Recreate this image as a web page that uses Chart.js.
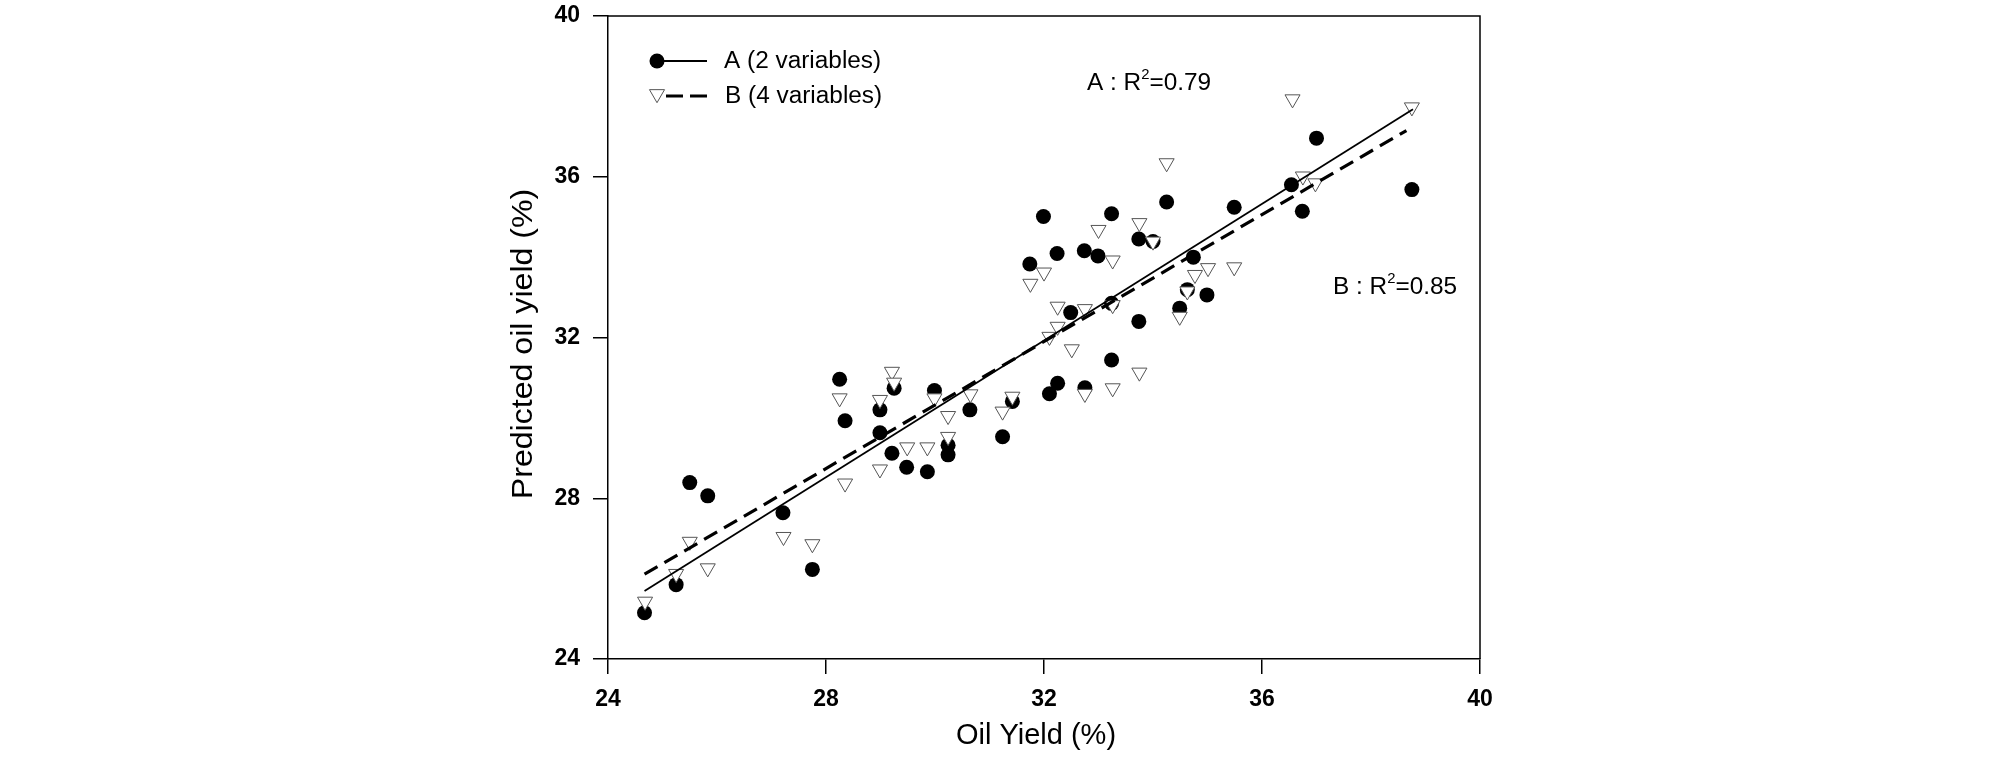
<!DOCTYPE html>
<html>
<head>
<meta charset="utf-8">
<script src="https://cdn.jsdelivr.net/npm/chart.js@4.4.1/dist/chart.umd.min.js"></script>
<style>
  html, body { margin: 0; padding: 0; background: #fff; }
  #wrap { width: 2008px; height: 758px; }
</style>
</head>
<body>
<div id="wrap"><canvas id="chart" width="2008" height="758"></canvas></div>
<script>
// --------------------------------
// || Data
// --------------------------------

// model A (2 variables): measured oil yield vs predicted
const aX = [24.67, 25.25, 25.50, 25.83, 27.21, 27.75, 28.25, 28.35, 28.99, 28.99,
            29.21, 29.25, 29.48, 29.86, 29.99, 30.24, 30.24, 30.64, 31.24, 31.42,
            31.74, 31.99, 32.10, 32.24, 32.25, 32.49, 32.74, 32.75, 32.99, 33.24,
            33.24, 33.24, 33.74, 33.74, 34.00, 34.25, 34.49, 34.63, 34.74, 34.99,
            35.49, 36.54, 36.74, 37.00, 38.75];
const aY = [25.15, 25.85, 28.39, 28.06, 27.64, 26.23, 30.96, 29.93, 30.20, 29.63,
            29.12, 30.74, 28.77, 28.66, 30.68, 29.32, 29.08, 30.20, 29.53, 30.41,
            33.83, 35.01, 30.60, 34.09, 30.86, 32.62, 34.16, 30.75, 34.03, 35.08,
            32.85, 31.44, 34.45, 32.40, 34.39, 35.37, 32.73, 33.19, 34.00, 33.06,
            35.24, 35.80, 35.14, 36.96, 35.68];

// model B (4 variables)
const bX = [24.68, 25.25, 25.50, 25.83, 27.22, 27.75, 28.25, 28.35, 28.99, 28.99,
            29.21, 29.25, 29.49, 29.86, 29.99, 30.24, 30.24, 30.65, 31.24, 31.42,
            31.75, 32.00, 32.10, 32.25, 32.25, 32.51, 32.75, 32.75, 33.00, 33.26,
            33.26, 33.26, 33.75, 33.75, 34.00, 34.25, 34.49, 34.63, 34.77, 35.01,
            35.49, 36.56, 36.75, 36.98, 38.75];
const bY = [25.43, 26.12, 26.92, 26.26, 27.04, 26.86, 30.49, 28.37, 30.45, 28.72,
            31.15, 30.88, 29.27, 29.27, 30.49, 30.05, 29.53, 30.59, 30.16, 30.53,
            33.34, 33.62, 32.02, 32.77, 32.27, 31.71, 32.71, 30.60, 34.68, 33.92,
            32.81, 30.74, 34.85, 31.13, 34.39, 36.34, 32.52, 33.15, 33.56, 33.73,
            33.75, 37.93, 36.01, 35.84, 37.73];

// fitted lines (end points)
const fitAX = [24.67, 38.77];
const fitAY = [25.69, 37.68];
const fitBX = [24.67, 38.65];
const fitBY = [26.11, 37.15];

const xTicks = [24, 28, 32, 36, 40];
const yTicks = [24, 28, 32, 36, 40];

const r2Labels = ['A : R', 'B : R'];
const r2Values = ['0.79', '0.85'];

// --------------------------------
// || Helpers
// --------------------------------

const FONT = "'Liberation Sans', Arial, sans-serif";
const STRETCH = 1.06;   // the figure's lettering runs a bit wider than Arial

function toPoints(xs, ys) {
    return xs.map((x, i) => ({ x: x, y: ys[i] }));
}

function downTriangle(ctx, x, y, r) {
    ctx.beginPath();
    ctx.moveTo(x, y + r);
    ctx.lineTo(x - r * 0.866, y - r / 2);
    ctx.lineTo(x + r * 0.866, y - r / 2);
    ctx.closePath();
    ctx.fillStyle = '#fff';
    ctx.fill();
    ctx.strokeStyle = '#555';
    ctx.lineWidth = 1;
    ctx.stroke();
}

// draws text at (x, y) widened along its own direction
function wideText(ctx, str, x, y, k) {
    ctx.save();
    ctx.translate(x, y);
    ctx.scale(k, 1);
    ctx.fillText(str, 0, 0);
    ctx.restore();
    return ctx.measureText(str).width * k;
}

// frame, legend, R² notes and axis titles
const overlay = {
    id: 'overlay',
    afterDraw(chart) {
        const ctx = chart.ctx;
        const a = chart.chartArea;
        ctx.save();

        ctx.strokeStyle = '#000';
        ctx.lineWidth = 1.5;
        ctx.beginPath();
        ctx.moveTo(a.left, a.top);
        ctx.lineTo(a.right, a.top);
        ctx.lineTo(a.right, a.bottom);
        ctx.stroke();

        // legend
        ctx.fillStyle = '#000';
        ctx.beginPath();
        ctx.arc(657, 61, 7.5, 0, Math.PI * 2);
        ctx.fill();
        ctx.lineWidth = 1.8;
        ctx.beginPath();
        ctx.moveTo(664, 61);
        ctx.lineTo(707, 61);
        ctx.stroke();

        ctx.lineWidth = 3;
        ctx.setLineDash([17, 7]);
        ctx.beginPath();
        ctx.moveTo(666, 96);
        ctx.lineTo(707, 96);
        ctx.stroke();
        ctx.setLineDash([]);
        downTriangle(ctx, 657, 94, 8.7);

        ctx.fillStyle = '#000';
        ctx.font = '23px ' + FONT;
        ctx.textBaseline = 'middle';
        ctx.textAlign = 'left';
        wideText(ctx, 'A (2 variables)', 724, 62, STRETCH);
        wideText(ctx, 'B (4 variables)', 725, 97, STRETCH);

        // R² notes
        const notePos = [[1087, 90], [1333, 294]];
        ctx.textBaseline = 'alphabetic';
        notePos.forEach((p, i) => {
            let x = p[0];
            ctx.font = '23px ' + FONT;
            x += wideText(ctx, r2Labels[i], x, p[1], STRETCH);
            ctx.font = '14px ' + FONT;
            x += wideText(ctx, '2', x, p[1] - 11, STRETCH);
            ctx.font = '23px ' + FONT;
            wideText(ctx, '=' + r2Values[i], x, p[1], STRETCH);
        });

        // axis titles
        ctx.textAlign = 'center';
        ctx.textBaseline = 'middle';
        ctx.font = '29px ' + FONT;
        wideText(ctx, 'Oil Yield (%)', 1036, 736, 1.0);
        ctx.font = '30px ' + FONT;
        ctx.translate(524, 344);
        ctx.rotate(-Math.PI / 2);
        wideText(ctx, 'Predicted oil yield (%)', 0, 0, 1.07);

        ctx.restore();
    }
};

// --------------------------------
// || Chart
// --------------------------------

const tickFont = { family: FONT, size: 23, weight: 'bold' };

new Chart(document.getElementById('chart'), {
    type: 'scatter',
    data: {
        datasets: [
            {
                label: 'A (2 variables)',
                data: toPoints(aX, aY),
                pointStyle: 'circle',
                pointRadius: 7.5,
                backgroundColor: '#000',
                borderColor: '#000',
                borderWidth: 0,
                order: 3
            },
            {
                label: 'B (4 variables)',
                data: toPoints(bX, bY),
                pointStyle: 'triangle',
                rotation: 180,
                pointRadius: 8.7,
                backgroundColor: '#fff',
                borderColor: '#555',
                borderWidth: 1,
                order: 2
            },
            {
                label: 'fit A',
                data: toPoints(fitAX, fitAY),
                showLine: true,
                pointRadius: 0,
                borderColor: '#000',
                borderWidth: 1.8,
                order: 1
            },
            {
                label: 'fit B',
                data: toPoints(fitBX, fitBY),
                showLine: true,
                pointRadius: 0,
                borderColor: '#000',
                borderWidth: 3.2,
                borderDash: [15, 8],
                order: 1
            }
        ]
    },
    options: {
        responsive: false,
        animation: false,
        devicePixelRatio: 1,
        layout: {
            padding: { left: 0, right: 528, top: 16, bottom: 0 }
        },
        plugins: {
            legend: { display: false },
            tooltip: { enabled: false }
        },
        scales: {
            x: {
                type: 'linear',
                min: 24,
                max: 40,
                afterBuildTicks: s => { s.ticks = xTicks.map(v => ({ value: v })); },
                afterFit: s => { s.height = 99; s.paddingLeft = 0; s.paddingRight = 0; },
                grid: { drawOnChartArea: false, drawTicks: true, tickLength: 15, color: '#000', lineWidth: 1.5 },
                border: { display: true, color: '#000', width: 1.5 },
                ticks: { color: '#000', font: tickFont, padding: 12, maxRotation: 0 }
            },
            y: {
                type: 'linear',
                min: 24,
                max: 40,
                afterBuildTicks: s => { s.ticks = yTicks.map(v => ({ value: v })); },
                afterFit: s => { s.width = 608; s.paddingTop = 0; s.paddingBottom = 0; },
                grid: { drawOnChartArea: false, drawTicks: true, tickLength: 15, color: '#000', lineWidth: 1.5 },
                border: { display: true, color: '#000', width: 1.5 },
                ticks: { color: '#000', font: tickFont, padding: 13 }
            }
        }
    },
    plugins: [overlay]
});
</script>
</body>
</html>
